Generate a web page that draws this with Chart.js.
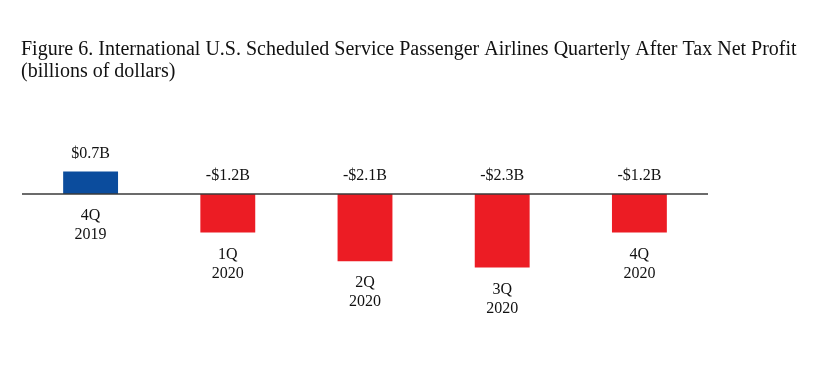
<!DOCTYPE html>
<html>
<head>
<meta charset="utf-8">
<script src="https://cdn.jsdelivr.net/npm/chart.js@4.4.0/dist/chart.umd.min.js"></script>
<style>
  html, body { margin: 0; padding: 0; background: #fff; }
  #wrap { width: 820px; height: 386px; }
</style>
</head>
<body>
<div id="wrap"><canvas id="profit-chart"></canvas></div>
<script>
const quarters = ['4Q', '1Q', '2Q', '3Q', '4Q'];
const years = ['2019', '2020', '2020', '2020', '2020'];
const netProfit = [0.7, -1.2, -2.1, -2.3, -1.2];
const valueLabels = ['$0.7B', '-$1.2B', '-$2.1B', '-$2.3B', '-$1.2B'];
const titleLines = [
    'Figure 6. International U.S. Scheduled Service Passenger Airlines Quarterly After Tax Net Profit',
    '(billions of dollars)'
];

const serif = '"Liberation Serif", "Times New Roman", serif';

// titulo, linha do zero e rotulos desenhados a mao
const labelPlugin = {
    id: 'labelPlugin',
    afterDatasetsDraw(chart) {
        const ctx = chart.ctx;
        const area = chart.chartArea;
        const y = chart.scales.y;
        const zero = y.getPixelForValue(0);

        ctx.save();
        ctx.strokeStyle = '#3a3a3a';
        ctx.lineWidth = 1.5;
        ctx.beginPath();
        ctx.moveTo(area.left, zero);
        ctx.lineTo(area.right, zero);
        ctx.stroke();

        ctx.fillStyle = '#111';
        ctx.font = '20px ' + serif;
        ctx.textAlign = 'left';
        ctx.textBaseline = 'alphabetic';
        ctx.fillText(titleLines[0], 21, 54.5);
        ctx.fillText(titleLines[1], 21, 77);

        ctx.font = '16px ' + serif;
        ctx.textAlign = 'center';
        ctx.textBaseline = 'middle';
        const meta = chart.getDatasetMeta(0);
        meta.data.forEach((bar, i) => {
            const top = y.getPixelForValue(Math.max(0, netProfit[i]));
            const bottom = y.getPixelForValue(Math.min(0, netProfit[i]));
            ctx.fillText(valueLabels[i], bar.x, top - 18);
            ctx.fillText(quarters[i], bar.x, bottom + 22);
            ctx.fillText(years[i], bar.x, bottom + 41);
        });
        ctx.restore();
    }
};

new Chart(document.getElementById('profit-chart'), {
    type: 'bar',
    data: {
        labels: quarters.map((q, i) => q + ' ' + years[i]),
        datasets: [{
            data: netProfit,
            backgroundColor: netProfit.map(v => v >= 0 ? '#0b4c9d' : '#ec1c24'),
            barPercentage: 0.8,
            categoryPercentage: 0.5
        }]
    },
    options: {
        responsive: true,
        maintainAspectRatio: false,
        animation: false,
        layout: { padding: { left: 22, right: 112, top: 98, bottom: 32 } },
        plugins: {
            legend: { display: false },
            title: { display: false },
            tooltip: { enabled: false }
        },
        scales: {
            x: { display: false },
            y: { display: false, min: -5, max: 3 }
        }
    },
    plugins: [labelPlugin]
});
</script>
</body>
</html>
